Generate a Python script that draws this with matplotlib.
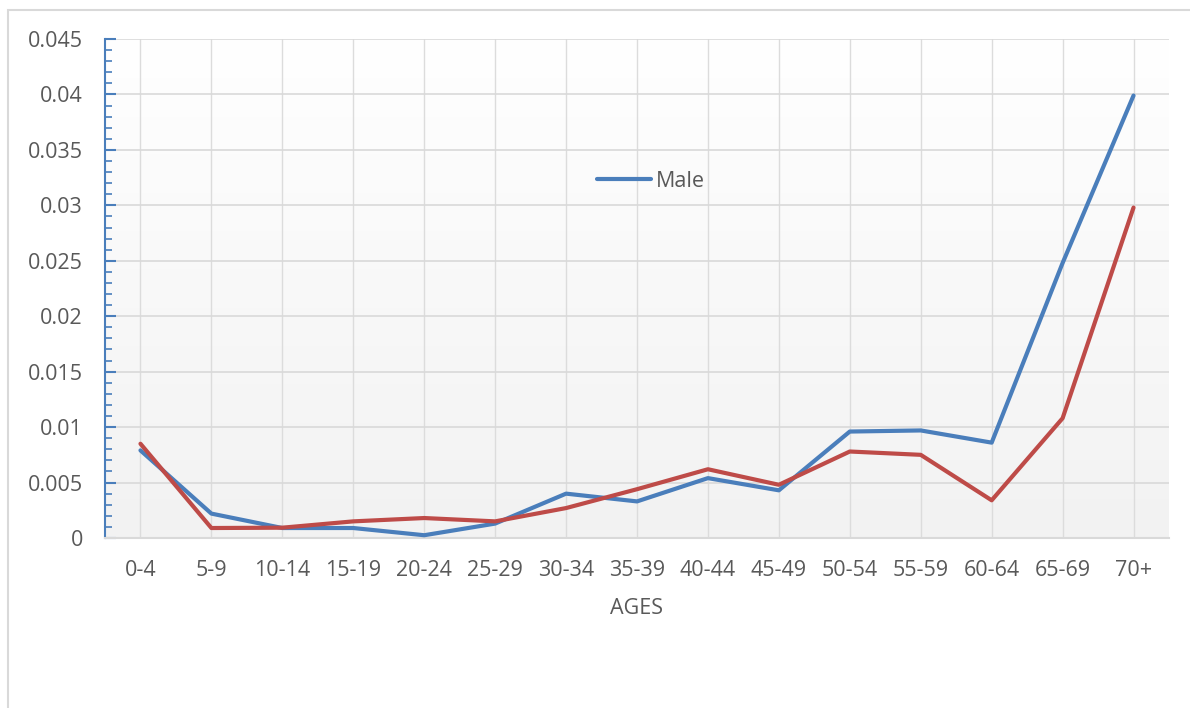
import numpy as np
import matplotlib.pyplot as plt
from matplotlib.colors import LinearSegmentedColormap
from matplotlib.ticker import MultipleLocator, FuncFormatter
from matplotlib.patches import Rectangle

ages = ['0-4', '5-9', '10-14', '15-19', '20-24', '25-29', '30-34', '35-39',
        '40-44', '45-49', '50-54', '55-59', '60-64', '65-69', '70+']
male = [0.0079, 0.0022, 0.0009, 0.0009, 0.00025, 0.0013, 0.0040, 0.0033,
        0.0054, 0.0043, 0.0096, 0.0097, 0.0086, 0.0248, 0.0399]
female = [0.0085, 0.0009, 0.00093, 0.0015, 0.0018, 0.0015, 0.0027, 0.0044,
          0.0062, 0.0048, 0.0078, 0.0075, 0.0034, 0.0108, 0.0298]

blue = '#4a7ebb'
red = '#be4b48'
text_col = '#595959'
grid_col = '#d9d9d9'

plt.rcParams['font.family'] = ['Open Sans', 'DejaVu Sans']

fig = plt.figure(figsize=(11.9, 7.08), dpi=100)
# chart border
fig.patches.append(Rectangle((8 / 1190, -0.02), 1.05, 1 - 10 / 708 + 0.02,
                             transform=fig.transFigure, fill=False,
                             edgecolor=grid_col, linewidth=1.5))

ax = fig.add_axes([105 / 1190, 170 / 708, 1064 / 1190, 499 / 708])
x = np.arange(len(ages))

# gradient background
grad = np.linspace(0, 1, 256).reshape(-1, 1)
ax.imshow(grad, extent=[0, 1, 0, 1], transform=ax.transAxes, aspect='auto',
          cmap=LinearSegmentedColormap.from_list('bg', ['#f2f2f2', '#ffffff']),
          origin='lower', zorder=0)

ax.plot(x, male, color=blue, linewidth=3, label='Male', zorder=3,
        solid_capstyle='round')
ax.plot(x, female, color=red, linewidth=3, label='_nolegend_', zorder=3,
        solid_capstyle='round')

ax.set_xlim(-0.5, len(ages) - 0.5)
ax.set_ylim(0, 0.045)
ax.set_xticks(x)
ax.set_xticklabels(ages)
ax.yaxis.set_major_locator(MultipleLocator(0.005))
ax.yaxis.set_minor_locator(MultipleLocator(0.001))
ax.yaxis.set_major_formatter(FuncFormatter(lambda v, p: '%g' % round(v, 4)))

ax.grid(axis='y', which='major', color=grid_col, linewidth=1.2, zorder=1)
for xi in x:
    ax.axvline(xi, color='#dcdcdc', linewidth=1.0, zorder=1)

for s in ['top', 'right']:
    ax.spines[s].set_visible(False)
ax.spines['bottom'].set_color(grid_col)
ax.spines['bottom'].set_linewidth(1.5)
ax.spines['left'].set_color(blue)
ax.spines['left'].set_linewidth(1.5)

ax.tick_params(axis='y', which='major', direction='in', length=8, width=1.5,
               color=blue, labelcolor=text_col, labelsize=15.5, pad=16)
ax.tick_params(axis='y', which='minor', direction='in', length=5, width=1.2,
               color=blue)
ax.tick_params(axis='x', length=0, labelcolor=text_col, labelsize=15.5, pad=16)

ax.set_xlabel('AGES', color=text_col, fontsize=15.5, labelpad=12)

ax.legend(loc='center', bbox_to_anchor=(0.513, 0.715), frameon=False,
          fontsize=15.5, labelcolor=text_col, handlelength=2.5,
          handletextpad=0.2)

fig.savefig('out.png', dpi=100)
